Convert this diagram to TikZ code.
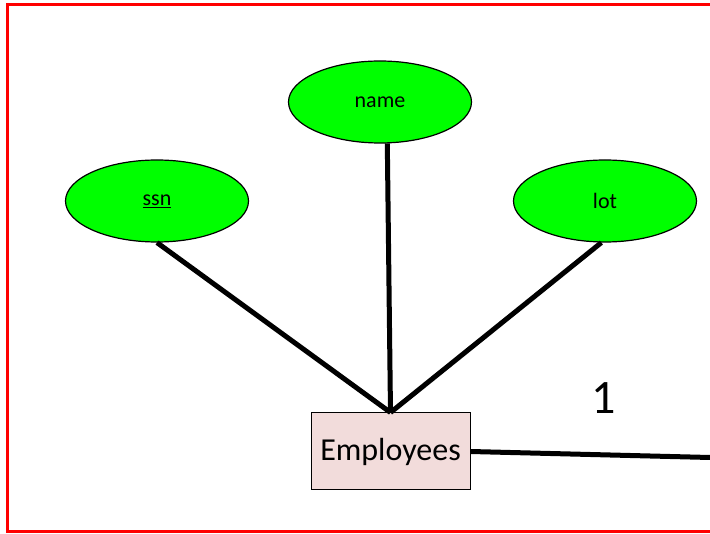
\documentclass[tikz,border=0pt]{standalone}
\usepackage{fontspec}
\setmainfont{Carlito}
\usetikzlibrary{shapes.geometric}
\definecolor{attrgreen}{HTML}{00FF00}
\definecolor{entpink}{HTML}{F2DCDB}
\tikzset{
  attr/.style={ellipse, draw=black, line width=1.2pt, fill=attrgreen, minimum width=183pt, minimum height=82pt, inner sep=0pt, font=\fontsize{22}{24}\selectfont},
  entity/.style={rectangle, draw=black, line width=1pt, fill=entpink, minimum width=159pt, minimum height=77pt, inner sep=0pt, font=\fontsize{32}{36}\selectfont},
  conn/.style={draw=black, line width=5pt},
  card/.style={font=\fontsize{48}{52}\selectfont, inner sep=0pt}
}
\begin{document}
\begin{tikzpicture}[x=1pt,y=-1pt]
\useasboundingbox (0,0) rectangle (710,534);
\clip (0,0) rectangle (710,534);
\fill[white] (0,0) rectangle (710,534);
\draw[red, line width=3pt] (7,5) rectangle (730,532);
\node[attr] (ssn) at (157,201) {\underline{ssn}};
\node[attr] (name) at (380,102) {name};
\node[attr] (lot) at (605,201) {lot};
\node[entity] (emp) at (390.5,451.5) {Employees};
\coordinate (rel) at (730,458);
\node[card] (one) at (603.5,398.5) {1};
\draw[conn] (ssn.south) -- (emp.north);
\draw[conn] (name.-80) -- (emp.north);
\draw[conn] (lot.-95) -- (emp.north);
\draw[conn] (emp.east) -- (rel);
\end{tikzpicture}
\end{document}
